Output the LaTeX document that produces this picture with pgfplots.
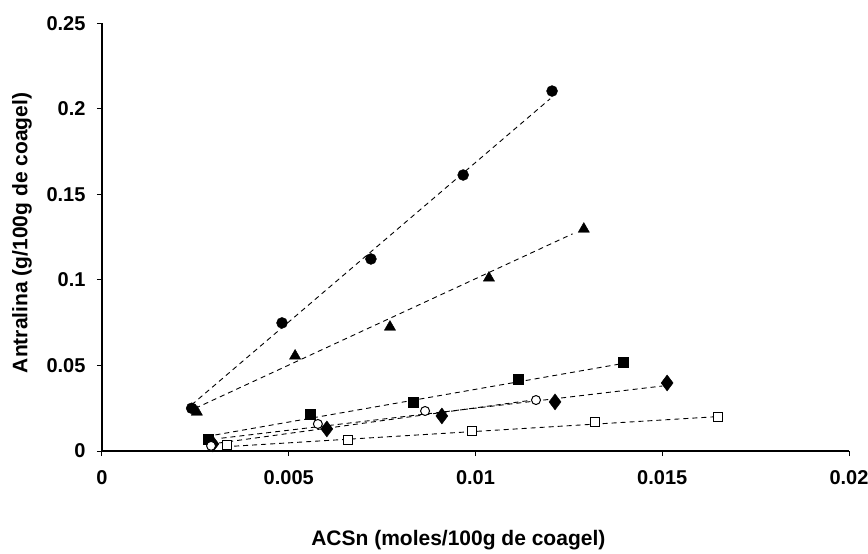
\documentclass[border=0pt]{standalone}
\usepackage{fontspec}
\setmainfont{Liberation Sans}
\usepackage{pgfplots}
\pgfplotsset{compat=1.18}

\begin{document}
\begin{tikzpicture}
\useasboundingbox (-102pt,-103pt) rectangle (766pt,451pt);
\begin{axis}[
    at={(0,0)}, anchor=south west,
    scale only axis,
    width=747pt, height=427.5pt,
    xmin=0, xmax=0.02,
    ymin=0, ymax=0.25,
    axis lines=left,
    axis line style={-, line width=1.3pt},
    tick align=outside,
    major tick length=5pt,
    tick style={line width=1pt, black},
    xtick={0,0.005,0.01,0.015,0.02},
    ytick={0,0.05,0.1,0.15,0.2,0.25},
    scaled x ticks=false,
    scaled y ticks=false,
    xticklabel style={/pgf/number format/fixed, /pgf/number format/precision=3, yshift=-11pt},
    yticklabel style={/pgf/number format/fixed, /pgf/number format/precision=2, xshift=-8pt},
    /pgf/number format/assume math mode=true,
    ticklabel style={font=\fontsize{20}{24}\selectfont\bfseries},
    label style={font=\fontsize{21}{25}\selectfont\bfseries},
    xlabel={ACSn (moles/100g de coagel)},
    ylabel={Antralina (g/100g de coagel)},
    xlabel style={at={(axis description cs:0.477,-0.208)}, anchor=center},
    ylabel style={at={(axis description cs:-0.107,0.51)}, anchor=center},
    clip=false,
    trend/.style={black, line width=0.9pt, dash pattern=on 5pt off 4pt},
]

% trend lines
\addplot[trend] coordinates {(0.0024,0.027) (0.0120,0.206)};
\addplot[trend] coordinates {(0.0025,0.025) (0.0126,0.127)};
\addplot[trend] coordinates {(0.0028,0.0085) (0.0139,0.051)};
\addplot[trend] coordinates {(0.0032,0.0075) (0.0150,0.038)};
\addplot[trend] coordinates {(0.0029,0.004) (0.0116,0.030)};
\addplot[trend] coordinates {(0.0033,0.0025) (0.0164,0.020)};

% filled circles
\addplot[only marks, mark=*, mark size=5.5pt, black] coordinates {
    (0.00240,0.0250) (0.00482,0.0749) (0.00720,0.1123) (0.00967,0.1614) (0.01205,0.2105)};
% filled triangles
\addplot[only marks, mark=triangle*, mark size=6.5pt, black] coordinates {
    (0.00254,0.0228) (0.00517,0.0556) (0.00771,0.0725) (0.01036,0.1012) (0.01290,0.1298)};
% filled squares
\addplot[only marks, mark=square*, mark size=5pt, black] coordinates {
    (0.00284,0.0070) (0.00557,0.0216) (0.00833,0.0287) (0.01114,0.0421) (0.01395,0.0520)};
% filled diamonds
\addplot[only marks, mark=diamond*, mark size=8pt, black] coordinates {
    (0.00297,0.0041) (0.00602,0.0129) (0.00910,0.0205) (0.01213,0.0287) (0.01513,0.0398)};
% open circles
\addplot[only marks, mark=*, mark size=4.5pt, black, fill=white, line width=1pt] coordinates {
    (0.00292,0.0030) (0.00578,0.0158) (0.00865,0.0234) (0.01162,0.0298)};
% open squares
\addplot[only marks, mark=square*, mark size=4.5pt, black, fill=white, line width=1pt] coordinates {
    (0.00335,0.0035) (0.00659,0.0064) (0.00991,0.0117) (0.01320,0.0170) (0.01649,0.0199)};

\end{axis}
\end{tikzpicture}
\end{document}
